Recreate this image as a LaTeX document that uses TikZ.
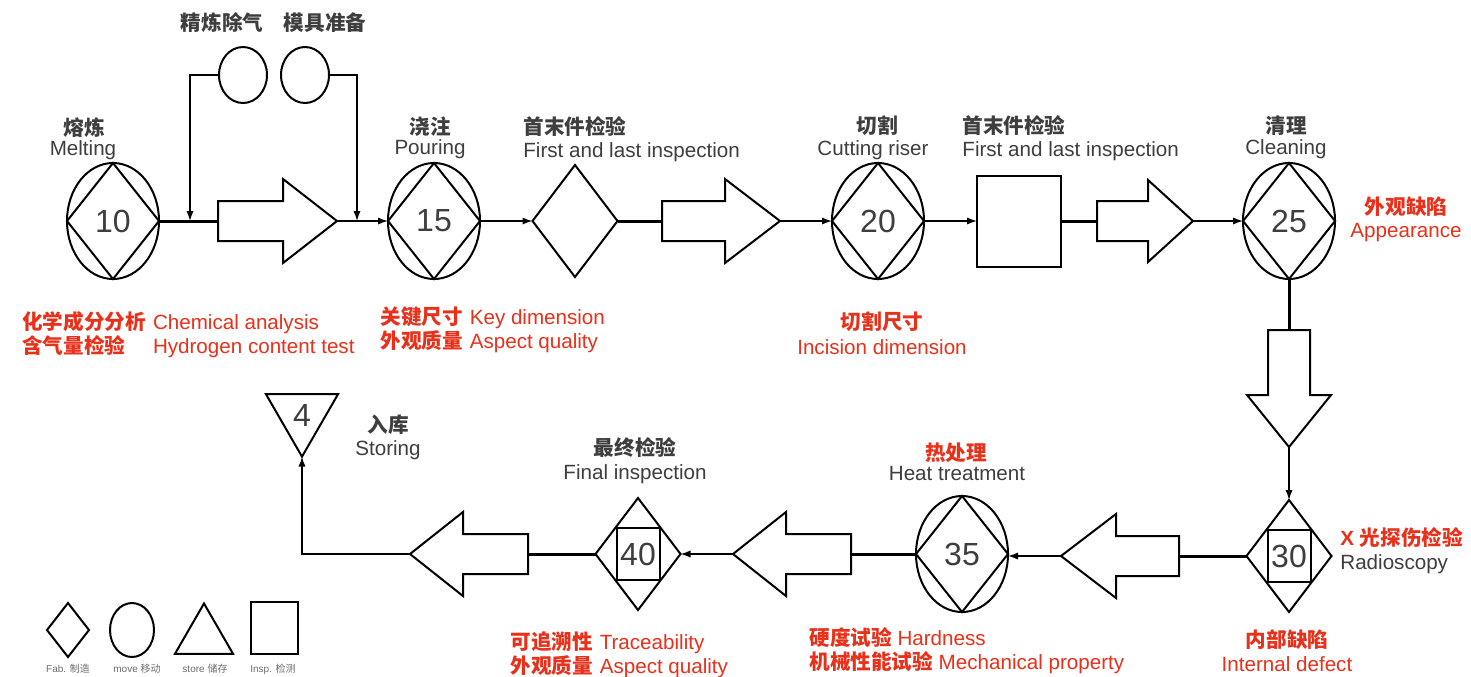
\documentclass[tikz,border=0pt]{standalone}
\usepackage{fontspec}
\setmainfont{Liberation Sans}
\newfontfamily\cjk{Noto Sans CJK SC}
\usetikzlibrary{shapes.geometric}
\usetikzlibrary{arrows.meta}
\definecolor{labelgray}{RGB}{62,62,62}
\definecolor{notered}{RGB}{232,48,26}
\newcommand{\zh}[1]{{\cjk\bfseries #1}}
\tikzstyle{stage}=[draw, line width=1pt, inner sep=0, outer sep=0, text=labelgray, font=\fontsize{16}{16}\selectfont]
\tikzstyle{opnode}=[stage, ellipse, minimum width=46pt, minimum height=58pt]
\tikzstyle{fabnode}=[stage, diamond, minimum width=42.5pt, minimum height=56pt]
\tikzstyle{inspnode}=[stage, rectangle, minimum width=42pt, minimum height=45.5pt]
\tikzstyle{movenode}=[stage, ellipse, minimum width=24pt, minimum height=28pt]
\tikzstyle{storenode}=[stage, regular polygon, regular polygon sides=3, shape border rotate=180, minimum size=41.6pt]
\tikzstyle{fat}=[draw, line width=1pt]
\tikzstyle{flow}=[line width=0.7pt, -{Latex[length=5pt,width=3.6pt]}]
\tikzstyle{link}=[line width=1.5pt]
\tikzstyle{caption}=[inner sep=0, anchor=base, text=labelgray, font=\fontsize{10.3}{11.5}\selectfont]
\tikzstyle{note}=[caption, text=notered]
\tikzstyle{keytext}=[inner sep=0, anchor=base, text=labelgray!75, font=\fontsize{5}{5}\selectfont]

\begin{document}
\begin{tikzpicture}[x=0.5pt, y=-0.5pt]
    \path[use as bounding box, fill=white] (0,0) rectangle (1471,676);

    % top row
    \node[opnode]   (n10) at (113,221) {10};
    \node[movenode] (o1)  at (243,75) {};
    \node[movenode] (o2)  at (305,75) {};
    \node[opnode]   (n15) at (434,221) {15};
    \node[fabnode]  (d15) at (575,221) {};
    \node[opnode]   (n20) at (878,221) {20};
    \node[inspnode] (b20) at (1019,221) {};
    \node[opnode]   (n25) at (1289,221) {25};
    \foreach \n in {n10,n15,n20,n25}
        \draw[line width=1pt] (\n.north) -- (\n.east) -- (\n.south) -- (\n.west) -- cycle;

    % bottom row
    \node[fabnode]   (n30)  at (1289,556) {30};
    \node[inspnode, minimum width=21.5pt, minimum height=26pt] (n30b) at (n30) {};
    \node[opnode]    (n35)  at (962,554) {35};
    \node[fabnode]   (n40)  at (638,554) {40};
    \node[inspnode, minimum width=21.5pt, minimum height=26pt] (n40b) at (n40) {};
    \node[storenode] (s4)   at (302,415) {4};
    \draw[line width=1pt] (n35.north) -- (n35.east) -- (n35.south) -- (n35.west) -- cycle;

    % move arrows
    \draw[fat] (218,201) -- (283,201) -- (283,179) -- (337,221) -- (283,263) -- (283,241) -- (218,241) -- cycle;
    \draw[fat] (662,201) -- (725,201) -- (725,179) -- (780,221) -- (725,263) -- (725,241) -- (662,241) -- cycle;
    \draw[fat] (1097,201) -- (1148,201) -- (1148,180) -- (1193,221) -- (1148,262) -- (1148,241) -- (1097,241) -- cycle;
    \draw[fat] (1268,330) -- (1268,395) -- (1247,395) -- (1289,447) -- (1331,395) -- (1310,395) -- (1310,330) -- cycle;
    \draw[fat] (1179,536) -- (1116,536) -- (1116,514) -- (1061,556) -- (1116,598) -- (1116,576) -- (1179,576) -- cycle;
    \draw[fat] (851,534) -- (786,534) -- (786,512) -- (733,554) -- (786,596) -- (786,574) -- (851,574) -- cycle;
    \draw[fat] (528,534) -- (463,534) -- (463,512) -- (410,554) -- (463,596) -- (463,574) -- (528,574) -- cycle;
    \coordinate (m1tail) at (218,221);  \coordinate (m1tip) at (337,221);
    \coordinate (m2tail) at (662,221);  \coordinate (m2tip) at (780,221);
    \coordinate (m3tail) at (1097,221); \coordinate (m3tip) at (1193,221);
    \coordinate (m4tail) at (1289,330); \coordinate (m4tip) at (1289,447);
    \coordinate (m5tail) at (1179,556); \coordinate (m5tip) at (1061,556);
    \coordinate (m6tail) at (851,554);  \coordinate (m6tip) at (733,554);
    \coordinate (m7tail) at (528,554);  \coordinate (m7tip) at (410,554);
    \coordinate (j1) at (190,221);
    \coordinate (j2) at (357,221);

    % connectors
    \draw[link] (n10.east) -- (m1tail);
    \draw[flow] (m1tip) -- (n15.west);
    \draw[flow] (o1.west) -| (j1);
    \draw[flow] (o2.east) -| (j2);
    \draw[flow] (n15.east) -- (d15.west);
    \draw[link] (d15.east) -- (m2tail);
    \draw[flow] (m2tip) -- (n20.west);
    \draw[flow] (n20.east) -- (b20.west);
    \draw[link] (b20.east) -- (m3tail);
    \draw[flow] (m3tip) -- (n25.west);
    \draw[link] (n25.south) -- (m4tail);
    \draw[flow] (m4tip) -- (n30.north);
    \draw[link] (n30.west) -- (m5tail);
    \draw[flow] (m5tip) -- (n35.east |- m5tip);
    \draw[link] (n35.west) -- (m6tail);
    \draw[flow] (m6tip) -- (n40.east);
    \draw[link] (n40.west) -- (m7tail);
    \draw[flow] (m7tip) -| (s4.corner 1);

    % captions
    \node[caption] (t10zh) at (84,135) {\zh{熔炼}};
    \node[caption] (t10en) at (83,155) {Melting};
    \node[caption] (to1) at (222,30) {\zh{精炼除气}};
    \node[caption] (to2) at (325,30) {\zh{模具准备}};
    \node[caption] (t15zh) at (430,134) {\zh{浇注}};
    \node[caption] (t15en) at (430,154) {Pouring};
    \node[caption, anchor=base west] (td15zh) at (523,134) {\zh{首末件检验}};
    \node[caption, anchor=base west] (td15en) at (523,157) {First and last inspection};
    \node[caption] (t20zh) at (877,133) {\zh{切割}};
    \node[caption] (t20en) at (873,155) {Cutting riser};
    \node[caption, anchor=base west] (tb20zh) at (962,133) {\zh{首末件检验}};
    \node[caption, anchor=base west] (tb20en) at (962,156) {First and last inspection};
    \node[caption] (t25zh) at (1286,133) {\zh{清理}};
    \node[caption] (t25en) at (1286,154) {Cleaning};
    \node[note] (r25zh) at (1406,214) {\zh{外观缺陷}};
    \node[note] (r25en) at (1406,237) {Appearance};
    \node[note, anchor=base west] (r10) at (22,329)
        {\begin{tabular}[t]{@{}l@{\hspace{3.5pt}}l@{}}\zh{化学成分分析} & Chemical analysis\\ \zh{含气量检验} & Hydrogen content test\end{tabular}};
    \node[note, anchor=base west] (r15) at (380,324)
        {\begin{tabular}[t]{@{}l@{\hspace{3.5pt}}l@{}}\zh{关键尺寸} & Key dimension\\ \zh{外观质量} & Aspect quality\end{tabular}};
    \node[note] (r20zh) at (882,329) {\zh{切割尺寸}};
    \node[note] (r20en) at (882,354) {Incision dimension};
    \node[caption] (t4zh) at (388,432) {\zh{入库}};
    \node[caption] (t4en) at (388,455) {Storing};
    \node[caption] (t40zh) at (635,455) {\zh{最终检验}};
    \node[caption] (t40en) at (635,479) {Final inspection};
    \node[note] (t35zh) at (956,460) {\zh{热处理}};
    \node[caption] (t35en) at (957,480) {Heat treatment};
    \node[note, anchor=base west] (r30zh) at (1340,545) {\textbf{X} \zh{光探伤检验}};
    \node[caption, anchor=base west] (t30en) at (1340,569) {Radioscopy};
    \node[note] (d30zh) at (1287,647) {\zh{内部缺陷}};
    \node[note] (d30en) at (1287,671) {Internal defect};
    \node[note, anchor=base west] (r40) at (510,649)
        {\begin{tabular}[t]{@{}l@{\hspace{3.5pt}}l@{}}\zh{可追溯性} & Traceability\\ \zh{外观质量} & Aspect quality\end{tabular}};
    \node[note, anchor=base west] (r35a) at (809,645) {\zh{硬度试验} Hardness};
    \node[note, anchor=base west] (r35b) at (809,669) {\zh{机械性能试验} Mechanical property};

    % legend
    \node[stage, diamond, minimum width=21pt, minimum height=27pt] (kfab) at (68,630) {};
    \node[stage, ellipse, minimum width=22pt, minimum height=27pt] (kmove) at (132,630) {};
    \node[stage, regular polygon, regular polygon sides=3, minimum size=33.5pt] (kstore) at (204,637) {};
    \node[stage, minimum width=23.5pt, minimum height=26pt] (kinsp) at (274,628) {};
    \node[keytext] (kfabt)   at (68,672)  {Fab. {\cjk 制造}};
    \node[keytext] (kmovet)  at (137,672) {move {\cjk 移动}};
    \node[keytext] (kstoret) at (205,672) {store {\cjk 储存}};
    \node[keytext] (kinspt)  at (273,672) {Insp. {\cjk 检测}};
\end{tikzpicture}
\end{document}
